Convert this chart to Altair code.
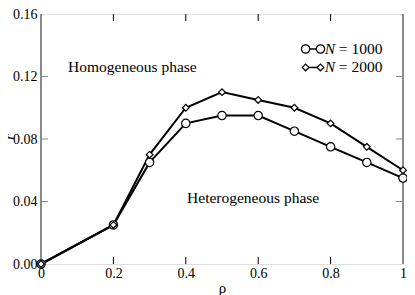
import altair as alt
import pandas as pd

# ---- data ----
rho = [0, 0.2, 0.3, 0.4, 0.5, 0.6, 0.7, 0.8, 0.9, 1.0]
r_1000 = [0, 0.025, 0.065, 0.09, 0.095, 0.095, 0.085, 0.075, 0.065, 0.055]
r_2000 = [0, 0.025, 0.07, 0.10, 0.11, 0.105, 0.10, 0.09, 0.075, 0.06]
x_label_values = [0, 0.2, 0.4, 0.6, 0.8, 1]
y_label_values = [0, 0.04, 0.08, 0.12, 0.16]
x_inner_ticks = [0.2, 0.4, 0.6, 0.8]
y_inner_ticks = [0.04, 0.08, 0.12]
series_names = ["N = 1000", "N = 2000"]
annotations = ["Homogeneous phase", "Heterogeneous phase"]
y_title = "r"

W, H = 362, 250
PAD_L = 33
FONT = "Liberation Serif"
GRAY = "#8a8a8a"
TICK = 7

d1000 = pd.DataFrame({"rho": rho, "r": r_1000})
d2000 = pd.DataFrame({"rho": rho, "r": r_2000})
xt = pd.DataFrame({"v": x_inner_ticks})
yt = pd.DataFrame({"v": y_inner_ticks})

xs = alt.Scale(domain=[0, 1], nice=False, zero=False)
ys = alt.Scale(domain=[0, 0.16], nice=False, zero=False)

x_axis = alt.Axis(values=x_label_values, labelExpr="format(datum.value, '~g')",
                  ticks=False, domain=False, grid=False, labelFont=FONT, labelFontSize=14,
                  labelColor="black", labelPadding=2, title="ρ", titleFont=FONT,
                  titleFontSize=15, titleFontWeight="normal", titleColor="black",
                  titlePadding=0, labelFlush=False)
y_axis = alt.Axis(values=y_label_values, format=".2f", ticks=False, domain=False, grid=False,
                  labelFont=FONT, labelFontSize=14, labelColor="black", labelPadding=4,
                  title=None, labelFlush=False)

base_x = alt.X("rho:Q", scale=xs, axis=x_axis)
base_y = alt.Y("r:Q", scale=ys, axis=y_axis)

line1000 = alt.Chart(d1000).mark_line(color="black", strokeWidth=2).encode(x=base_x, y=base_y)
line2000 = alt.Chart(d2000).mark_line(color="black", strokeWidth=2).encode(x="rho:Q", y="r:Q")
pts1000 = alt.Chart(d1000).mark_point(shape="circle", filled=True, fill="white", stroke="black",
                                      strokeWidth=1.2, size=70, opacity=1).encode(x="rho:Q", y="r:Q")
pts2000 = alt.Chart(d2000).mark_point(shape="diamond", filled=True, fill="white", stroke="black",
                                      strokeWidth=1.2, size=45, opacity=1).encode(x="rho:Q", y="r:Q")

# inward ticks and side frame lines
t_bottom = alt.Chart(xt).mark_rule(color="black", strokeWidth=1).encode(
    x="v:Q", y=alt.value(H), y2=alt.value(H - TICK))
t_top = alt.Chart(xt).mark_rule(color="black", strokeWidth=1).encode(
    x="v:Q", y=alt.value(0), y2=alt.value(TICK))
t_left = alt.Chart(yt).mark_rule(color=GRAY, strokeWidth=1).encode(
    y="v:Q", x=alt.value(0), x2=alt.value(TICK))
t_right = alt.Chart(yt).mark_rule(color=GRAY, strokeWidth=1).encode(
    y="v:Q", x=alt.value(W), x2=alt.value(W - TICK))
side_left = alt.Chart(yt).mark_rule(color=GRAY, strokeWidth=2).encode(
    x=alt.value(0), y=alt.value(0), y2=alt.value(H))
side_right = alt.Chart(yt).mark_rule(color=GRAY, strokeWidth=2).encode(
    x=alt.value(W), y=alt.value(0), y2=alt.value(H))

# y title (italic r, rotated)
ytitle = alt.Chart(pd.DataFrame({"t": [y_title]})).mark_text(
    font=FONT, fontSize=14, fontStyle="italic", angle=270, align="center", baseline="middle",
    color="black").encode(x=alt.value(-31), y=alt.value(H / 2 - 2), text="t:N")

# legend
LX1, LX2, LXT = 0.731, 0.772, 0.784
LY = [0.1376, 0.1258]
leg = []
for i, (shape, size) in enumerate([("circle", 70), ("diamond", 45)]):
    ly = LY[i]
    seg = pd.DataFrame({"rho": [LX1, LX2], "r": [ly, ly]})
    leg.append(alt.Chart(seg).mark_line(color="black", strokeWidth=1.5).encode(x="rho:Q", y="r:Q"))
    leg.append(alt.Chart(seg).mark_point(shape=shape, filled=True, fill="white", stroke="black",
                                         strokeWidth=1.2, size=size, opacity=1).encode(x="rho:Q", y="r:Q"))
    name = series_names[i]
    leg.append(alt.Chart(pd.DataFrame({"t": [name.split(" ", 1)[0]]})).mark_text(
        font=FONT, fontSize=15.5, fontStyle="italic", align="left", baseline="middle", color="black"
    ).encode(x=alt.datum(LXT), y=alt.datum(ly), text="t:N"))
    leg.append(alt.Chart(pd.DataFrame({"t": [name.split(" ", 1)[1]]})).mark_text(
        font=FONT, fontSize=15.5, align="left", baseline="middle", color="black", dx=14
    ).encode(x=alt.datum(LXT), y=alt.datum(ly), text="t:N"))

ann = pd.DataFrame({"t": annotations, "x": [0.0747, 0.4035], "y": [0.1258, 0.042]})
ann_layer = alt.Chart(ann).mark_text(font=FONT, fontSize=15.5, align="left", baseline="middle",
                                     color="black").encode(x="x:Q", y="y:Q", text="t:N")

chart = alt.layer(
    line1000, line2000, t_bottom, t_top, t_left, t_right, side_left, side_right,
    pts1000, pts2000, ann_layer, ytitle, *leg
).properties(
    width=W, height=H,
    autosize=alt.AutoSizeParams(type="none"),
    padding={"left": PAD_L, "top": 6, "right": 4, "bottom": 31},
).configure_view(stroke="black", strokeWidth=1.5).configure(background="white")

chart.save("out.html", embed_options={"renderer": "svg", "actions": False})
